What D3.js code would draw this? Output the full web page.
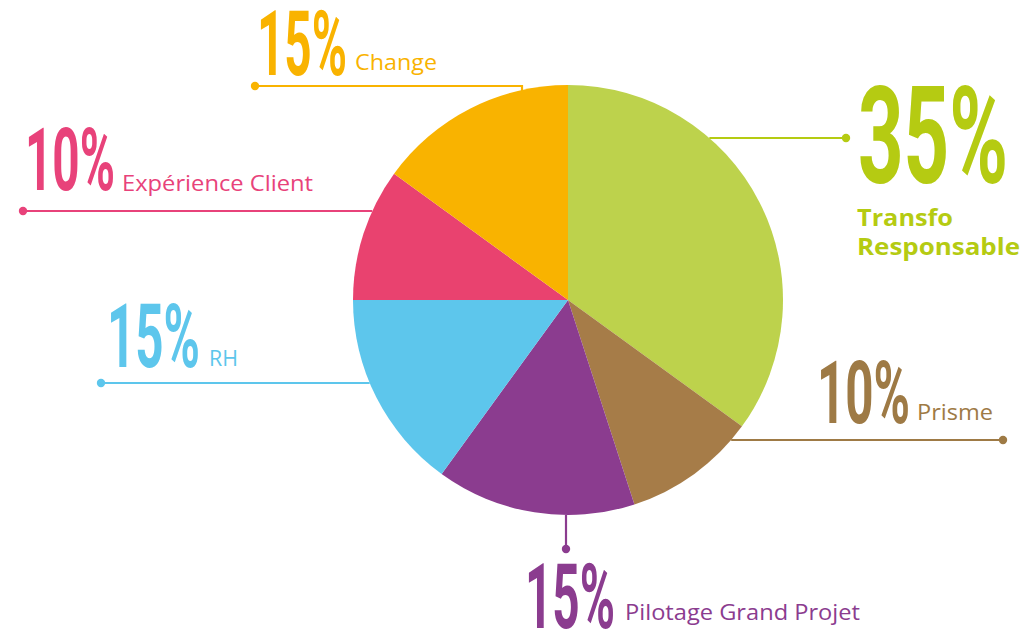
<!DOCTYPE html>
<html><head><meta charset="utf-8">
<script src="https://cdn.jsdelivr.net/npm/d3@7"></script>
<style>html,body{margin:0;padding:0;background:#fff;}svg{display:block;}</style>
</head><body>
<svg id="c" width="1024" height="632"></svg>
<script>
const categories = ["Transfo Responsable","Prisme","Pilotage Grand Projet","RH","Expérience Client","Change"];
const values = [35,10,15,15,10,15];
const pctLabels = ["35%","10%","15%","15%","10%","15%"];
const sliceColors = ["#BDD24C","#A67C48","#8B3C8F","#5DC6EC","#E9426F","#F9B300"];
const textColors = ["#B5CB12","#9E7A45","#8B3C8F","#5DC6EC","#E8427A","#F9B300"];

// layout (positions kept apart from data)
const cx = 568, cy = 300, R = 215;
const layout = [
  {pct:{x:858,y:183,w:150,h:136}, lines:[["Transfo",857,226,96],["Responsable",857,255,163]], bold:true, fs:24,
   lead:{type:"h", y:138, side:"right", dot:846}},
  {pct:{x:817,y:423,w:93,h:88}, lines:[["Prisme",917,420,76]], fs:22,
   lead:{type:"h", y:440, side:"right", dot:1003}},
  {pct:{x:525,y:628,w:90,h:90}, lines:[["Pilotage Grand Projet",625,620,235]], fs:22,
   lead:{type:"v", x:566, side:"bottom", dot:549}},
  {pct:{x:107,y:367,w:93,h:89}, lines:[["RH",209,366,29]], fs:22,
   lead:{type:"h", y:383, side:"left", dot:101}},
  {pct:{x:25,y:190,w:90,h:88}, lines:[["Expérience Client",122,191,191]], fs:22,
   lead:{type:"h", y:211, side:"left", dot:23}},
  {pct:{x:257,y:75,w:90,h:90}, lines:[["Change",355,70,82]], fs:22,
   lead:{type:"hv", y:86, x:522, dot:255}}
];

const svg = d3.select("#c");
const pie = d3.pie().sort(null).value(d => d)(values);
const arc = d3.arc().innerRadius(0).outerRadius(R);

const g = svg.append("g").attr("transform", `translate(${cx},${cy})`);
g.selectAll("path").data(pie).join("path")
  .attr("d", arc).attr("fill", (d,i) => sliceColors[i]);

// leader lines
layout.forEach((L,i) => {
  const c = textColors[i], ld = L.lead;
  let pts, dot;
  if (ld.type === "h") {
    const dx = Math.sqrt(R*R - (ld.y-cy)*(ld.y-cy));
    const ex = ld.side === "right" ? cx + dx : cx - dx;
    pts = [[ex, ld.y],[ld.dot, ld.y]]; dot = [ld.dot, ld.y];
  } else if (ld.type === "v") {
    const dy = Math.sqrt(R*R - (ld.x-cx)*(ld.x-cx));
    pts = [[ld.x, cy+dy],[ld.x, ld.dot]]; dot = [ld.x, ld.dot];
  } else {
    const dy = Math.sqrt(R*R - (ld.x-cx)*(ld.x-cx));
    pts = [[ld.dot, ld.y],[ld.x, ld.y],[ld.x, cy-dy+2]]; dot = [ld.dot, ld.y];
  }
  svg.append("path").attr("d", d3.line()(pts)).attr("fill","none")
    .attr("stroke", c).attr("stroke-width", 2.2);
  svg.append("circle").attr("cx", dot[0]).attr("cy", dot[1]).attr("r", 4.2).attr("fill", c);
});

// percentage labels (condensed tall numbers)
layout.forEach((L,i) => {
  const p = L.pct;
  svg.append("text").text(pctLabels[i])
    .attr("x", p.x).attr("y", p.y)
    .attr("font-family", "Roboto, 'Liberation Sans', sans-serif")
    .attr("font-weight", 700).attr("font-size", p.h)
    .attr("textLength", p.w).attr("lengthAdjust", "spacingAndGlyphs")
    .attr("fill", textColors[i]);
  L.lines.forEach(([t,x,y,w]) => {
    svg.append("text").text(t).attr("x", x).attr("y", y)
      .attr("font-family", "'Open Sans', 'Noto Sans', sans-serif")
      .attr("font-weight", L.bold ? 700 : 400).attr("font-size", L.fs)
      .attr("textLength", w).attr("lengthAdjust", "spacingAndGlyphs")
      .attr("fill", textColors[i]);
  });
});
</script>
</body></html>
